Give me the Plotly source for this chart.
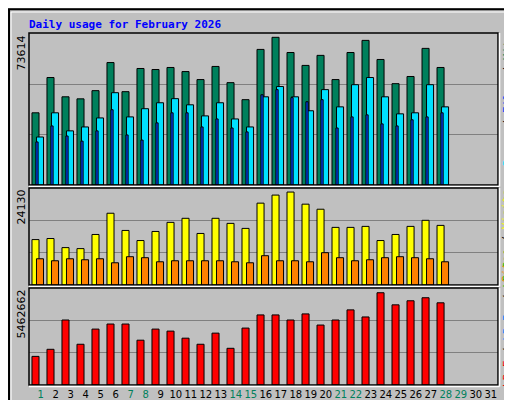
import plotly.graph_objects as go

days = list(range(1, 29))
hits = [35200, 52400, 43000, 42000, 46000, 59700, 45500, 56800, 56300, 57300, 55300, 51400, 57800, 49900,
        41600, 66100, 72000, 64600, 58300, 63200, 51400, 64600, 70500, 61200, 49400, 52900, 66600, 57300]
files = [21000, 28800, 23900, 21400, 26400, 36700, 24400, 21900, 30300, 35200, 35200, 28300, 32200, 27800,
         25900, 44000, 46500, 42600, 40600, 41600, 27800, 33200, 34200, 29800, 28800, 31800, 33200, 35200]
pages = [23400, 35200, 26400, 28300, 32700, 45000, 33200, 37200, 40100, 42100, 39100, 33700, 40100, 32200,
         28300, 43000, 48000, 43000, 36200, 46500, 38100, 48900, 52400, 43000, 34700, 35200, 48900, 38100]
visits = [11300, 11560, 9300, 9050, 12570, 17850, 13570, 11060, 13320, 15580, 16590, 12820, 16590, 15330,
          14080, 20360, 22370, 23120, 20110, 18850, 14330, 14330, 14580, 11060, 12570, 14580, 16090, 14830]
sites = [6530, 6030, 6530, 6280, 6530, 5530, 7040, 6790, 5780, 6030, 6030, 6030, 6030, 5780,
         5530, 7290, 6030, 6030, 5780, 8040, 6790, 6030, 6280, 6790, 7040, 6790, 6530, 5780]
kbytes = [1612000, 2010000, 3660000, 2295000, 3148000, 3433000, 3433000, 2523000, 3148000, 3035000,
          2637000, 2295000, 2921000, 2067000, 3205000, 3946000, 3946000, 3660000, 4003000, 3376000,
          3660000, 4230000, 3832000, 5196000, 4515000, 4743000, 4914000, 4629000]
max_hits, max_visits, max_kb = 73614, 24130, 5462662
all_days = list(range(1, 32))
weekend = [1, 7, 8, 14, 15, 21, 22, 28, 29]

fig = go.Figure()
line = dict(color="black", width=1)


def bar(y, off, w, color, name, ax):
    fig.add_trace(go.Bar(x=[d + off for d in days], y=y, width=w, marker=dict(color=color, line=line),
                         name=name, xaxis="x" + ax, yaxis="y" + ax))


bar(hits, -0.2, 0.47, "#00805c", "Hits", "")
bar(pages, 0.1, 0.47, "#00e0ff", "Pages", "")
bar(files, -0.1, 0.15, "#0040ff", "Files", "")
bar(visits, -0.2, 0.47, "#ffff00", "Visits", "2")
bar(sites, 0.1, 0.47, "#ff8000", "Sites", "2")
bar(kbytes, -0.2, 0.47, "#ff0000", "kB F", "3")

xr = [0.367, 31.63]
xdom = [21 / 512, 490 / 512]
grid = dict(showgrid=True, gridcolor="#808080", gridwidth=1, showticklabels=False, zeroline=False, ticks="")
layout = dict(
    width=512, height=400, margin=dict(l=0, r=0, t=0, b=0), showlegend=False, barmode="overlay",
    paper_bgcolor="#c0c0c0", plot_bgcolor="#c0c0c0",
    xaxis=dict(domain=xdom, range=xr, showticklabels=False, showgrid=False, anchor="y"),
    xaxis2=dict(domain=xdom, range=xr, showticklabels=False, showgrid=False, anchor="y2"),
    xaxis3=dict(domain=xdom, range=xr, showgrid=False, anchor="y3", tickangle=0,
                tickvals=[d + 0.15 for d in all_days],
                ticktext=[f"<span style='color:{'#00805c' if d in weekend else 'black'}'>{d}</span>"
                          for d in all_days],
                tickfont=dict(family="DejaVu Sans", size=10), ticks="", ticklabelstandoff=2),
    yaxis=dict(domain=[1 - 177 / 400, 1 - 25 / 400], range=[0, max_hits * 151 / 150],
               tickvals=[max_hits / 3, max_hits * 2 / 3], **grid),
    yaxis2=dict(domain=[1 - 277 / 400, 1 - 180 / 400], range=[0, max_visits],
                tickvals=[max_visits / 3, max_visits * 2 / 3], **grid),
    yaxis3=dict(domain=[1 - 377 / 400, 1 - 280 / 400], range=[0, max_kb],
                tickvals=[max_kb / 3, max_kb * 2 / 3], **grid),
)
fig.update_layout(**layout)

# frames
shapes = [dict(type="rect", xref="paper", yref="paper", x0=0.002, x1=0.998, y0=0.003, y1=0.997,
               line=dict(color="black", width=2))]
shapes.append(dict(type="line", xref="paper", yref="paper", x0=0.006, x1=0.006, y0=0.01, y1=0.99,
                   line=dict(color="white", width=1)))
shapes.append(dict(type="line", xref="paper", yref="paper", x0=0.006, x1=0.985, y0=0.99, y1=0.99,
                   line=dict(color="white", width=1)))
shapes.append(dict(type="line", xref="paper", yref="paper", x0=0.988, x1=0.988, y0=0.01, y1=0.99,
                   line=dict(color="#808080", width=3)))
for d in (layout["yaxis"]["domain"], layout["yaxis2"]["domain"], layout["yaxis3"]["domain"]):
    shapes.append(dict(type="rect", xref="paper", yref="paper", x0=xdom[0], x1=xdom[1], y0=d[0], y1=d[1],
                       line=dict(color="black", width=1.5)))
    shapes.append(dict(type="line", xref="paper", yref="paper", x0=xdom[0], x1=xdom[1] + 0.003,
                       y0=d[0] - 0.004, y1=d[0] - 0.004, line=dict(color="white", width=1.5)))
    shapes.append(dict(type="line", xref="paper", yref="paper", x0=xdom[1] + 0.003, x1=xdom[1] + 0.003,
                       y0=d[0] - 0.004, y1=d[1], line=dict(color="white", width=1.5)))
fig.update_layout(shapes=shapes)

mono = "DejaVu Sans Mono"
ann = [dict(text="<b>Daily usage for February 2026</b>", x=19 / 512, y=1 - 16 / 400, xref="paper", yref="paper",
            xanchor="left", yanchor="middle", showarrow=False, font=dict(family=mono, size=11, color="#0000ff"))]
for val, ytop in ((max_hits, 26), (max_visits, 180), (max_kb, 280)):
    ann.append(dict(text=str(val), x=13 / 512, y=1 - ytop / 400, xref="paper", yref="paper", textangle=-90,
                    xanchor="center", yanchor="top", showarrow=False,
                    font=dict(family="DejaVu Sans", size=11, color="black")))


def side(parts, ycenter):
    txt = "<span style='color:black'> / </span>".join(f"<span style='color:{c}'>{t}</span>" for t, c in parts)
    ann.append(dict(text=txt, x=0.975, y=1 - ycenter / 400, xref="paper", yref="paper", textangle=-90,
                    xanchor="center", yanchor="middle", showarrow=False, font=dict(family=mono, size=11)))


side([("Pages", "#00e0ff"), ("Files", "#0040ff"), ("Hits", "#00805c")], 92)
side([("Sites", "#ff8000"), ("Visits", "#ffff00")], 228)
side([("kB F", "#ff0000"), ("kB In", "#0080ff"), ("kB Out", "#00c000")], 310)
fig.update_layout(annotations=ann)

fig.write_html("out.html")
